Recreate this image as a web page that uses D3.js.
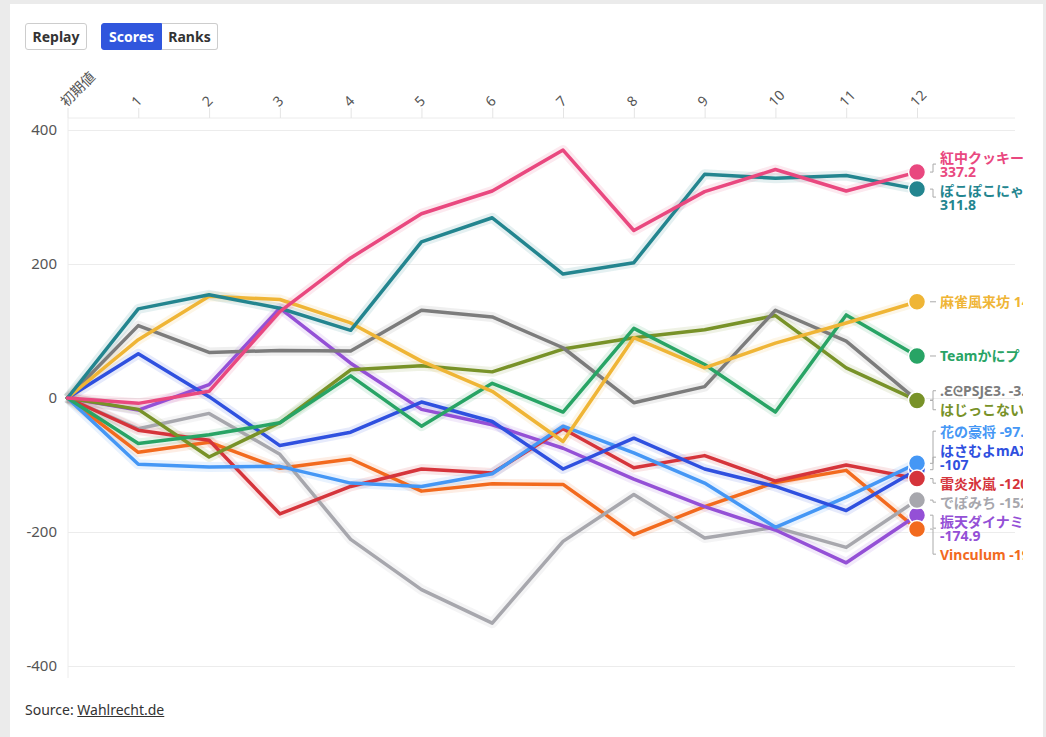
<!DOCTYPE html>
<meta charset="utf-8">
<head>
<style>
  body {
    margin: 0;
    background: #ebebeb;
    font-family: "Source Sans Pro", "Noto Sans", "Noto Sans CJK JP", sans-serif;
  }
  #card {
    position: absolute;
    left: 10px;
    top: 4px;
    width: 1033px;
    height: 760px;
    background: #fff;
  }
  .btn {
    position: absolute;
    top: 23px;
    height: 27px;
    box-sizing: border-box;
    border: 1px solid #cdcdcd;
    background: #fff;
    color: #333;
    font: bold 14px "Noto Sans", sans-serif;
    display: flex;
    align-items: center;
    justify-content: center;
  }
  #replay { left: 25px; width: 62px; border-radius: 3px; }
  #scores { left: 101px; width: 61px; border-radius: 3px 0 0 3px; background: #3056dd; border-color: #3056dd; color: #fff; }
  #ranks { left: 162px; width: 56px; border-radius: 0 3px 3px 0; border-left: none; }
  #source {
    position: absolute;
    left: 25px;
    top: 700px;
    font: 14px "Noto Sans", sans-serif;
    color: #333;
  }
  #source span { text-decoration: underline; }
  svg { position: absolute; left: 0; top: 0; }
  .tick text { fill: #555; }
</style>
</head>
<body>
<div id="card"></div>
<div class="btn" id="replay">Replay</div>
<div class="btn" id="scores">Scores</div>
<div class="btn" id="ranks">Ranks</div>
<div id="source">Source: <span>Wahlrecht.de</span></div>
<svg id="chart" width="1023" height="737"></svg>
<script src="https://cdn.jsdelivr.net/npm/d3@7"></script>
<script>

var rounds = ["初期値", "1", "2", "3", "4", "5", "6", "7", "8", "9", "10", "11", "12"];
var yTicks = [-400, -200, 0, 200, 400];

var names = ["紅中クッキー", "ぽこぽこにゃ", "麻雀風来坊", "Teamかにプ", ".ƐᘓPSJƐ3.", "はじっこない",
             "はさむよmAX", "花の豪将", "雷炎氷嵐", "振天ダイナミ", "でぽみち", "Vinculum"];
var colors = ["#e9487f", "#23858f", "#efb536", "#28a465", "#7c7c7c", "#789228",
              "#2f50df", "#4597f5", "#d5343b", "#9450d6", "#a7a7ad", "#f26a1e"];

// scores after each round
var kukki  = [0, -8, 10, 129, 209, 275, 309, 370, 250, 308, 341, 309, 337.2];
var poko   = [0, 133, 154, 134, 101, 233, 269, 185, 202, 334, 328, 332, 311.8];
var furai  = [0, 87, 152, 147, 112, 55, 10, -65, 90, 45, 82, 112, 143.6];
var kanipu = [0, -68, -55, -37, 33, -42, 22, -21, 104, 50, -21, 124, 62.7];
var psj    = [0, 108, 68, 71, 70, 131, 121, 75, -7, 17, 131, 85, -3.1];
var hajikko = [0, -17, -88, -37, 42, 48, 39, 73, 90, 102, 123, 45, -3.6];
var hasamu = [0, 66, 2, -71, -51, -6, -35, -106, -60, -106, -132, -168, -107];
var hana   = [0, -99, -103, -102, -127, -132, -113, -42, -82, -127, -193, -148, -97.5];
var raien  = [0, -48, -63, -173, -132, -106, -112, -46, -104, -86, -124, -100, -120.3];
var shinten = [0, -18, 20, 134, 52, -17, -40, -75, -121, -162, -197, -246, -174.9];
var depomi = [0, -46, -23, -84, -211, -286, -336, -214, -144, -209, -193, -223, -152.4];
var vinc   = [0, -81, -66, -105, -91, -139, -128, -129, -204, -162, -126, -108, -195.6];

var values = [kukki, poko, furai, kanipu, psj, hajikko, hasamu, hana, raien, shinten, depomi, vinc];

var series = names.map(function(n, i) {
  return { name: n, color: colors[i], values: values[i] };
});

var svg = d3.select("#chart");

var x = d3.scalePoint().domain(rounds).range([67.5, 917]);
var y = d3.scaleLinear().domain([-400, 400]).range([666, 130]);

// grid
svg.append("line")
  .attr("x1", 68).attr("x2", 1015).attr("y1", 118).attr("y2", 118)
  .attr("stroke", "#ececec");
svg.append("line")
  .attr("x1", 68).attr("x2", 68).attr("y1", 118).attr("y2", 678)
  .attr("stroke", "#ececec");

var yAxis = svg.append("g")
  .attr("transform", "translate(68,0)")
  .call(d3.axisLeft(y).tickValues(yTicks).tickFormat(function(d) { return String(d); })
    .tickSize(-947).tickPadding(10));
yAxis.select(".domain").remove();
yAxis.selectAll(".tick line").attr("stroke", "#ececec");
yAxis.selectAll(".tick text")
  .style("font", "15px 'Noto Sans', sans-serif").attr("x", -11);

var xAxis = svg.append("g")
  .attr("transform", "translate(0,118)")
  .call(d3.axisTop(x).tickSize(10).tickPadding(0));
xAxis.select(".domain").remove();
xAxis.selectAll(".tick line").attr("stroke", "#e4e4e4");
xAxis.selectAll(".tick text")
  .style("font", "14px 'Noto Sans', 'Noto Sans CJK JP', sans-serif")
  .attr("text-anchor", "start")
  .attr("transform", "translate(-5,-14) rotate(-45)")
  .attr("y", 0)
  .attr("dy", "0.35em");

var line = d3.line()
  .x(function(d, i) { return x(rounds[i]); })
  .y(function(d) { return y(d); });

var lines = svg.append("g");
series.slice().reverse().forEach(function(s) {
  lines.append("path")
    .attr("d", line(s.values))
    .attr("fill", "none")
    .attr("stroke", s.color)
    .attr("stroke-opacity", 0.12)
    .attr("stroke-width", 10)
    .attr("stroke-linejoin", "round");
});
series.slice().reverse().forEach(function(s) {
  lines.append("path")
    .attr("d", line(s.values))
    .attr("fill", "none")
    .attr("stroke", s.color)
    .attr("stroke-width", 3.5)
    .attr("stroke-linejoin", "round")
    .attr("stroke-linecap", "round");
});

// end dots
var last = rounds[rounds.length - 1];
svg.append("g").selectAll("circle")
  .data(series)
  .join("circle")
  .attr("cx", x(last))
  .attr("cy", function(d) { return y(d.values[d.values.length - 1]); })
  .attr("r", 8.5)
  .attr("fill", function(d) { return d.color; })
  .attr("stroke", "#fff")
  .attr("stroke-width", 1.5);

// labels, pushed apart so they don't overlap
var labelX = x(last) + 23;
var lab = svg.append("g").style("font", "bold 14px 'Noto Sans', 'Noto Sans CJK JP', sans-serif");
var labels = series.map(function(s) {
  var v = s.values[s.values.length - 1];
  var t = lab.append("text").attr("x", labelX).attr("fill", s.color).text(s.name + " " + v);
  var w = t.node().getComputedTextLength();
  var wrap = w > 117;
  if (wrap) {
    t.text(null);
    t.append("tspan").attr("x", labelX).attr("dy", "-0.5em").text(s.name);
    t.append("tspan").attr("x", labelX).attr("dy", "1em").text(v);
  }
  return { s: s, t: t, y0: y(v), y: y(v), h: wrap ? 32 : 18 };
});
labels.sort(function(a, b) { return a.y0 - b.y0; });
for (var k = 0; k < 300; k++) {
  for (var i = 1; i < labels.length; i++) {
    var a = labels[i - 1], b = labels[i];
    var minD = a.h / 2 + b.h / 2 + 1;
    if (b.y - a.y < minD) {
      var sh = (minD - (b.y - a.y)) / 2;
      a.y -= sh; b.y += sh;
    }
  }
}
labels.forEach(function(l) {
  l.t.attr("y", l.y).attr("dominant-baseline", "central");
  l.t.selectAll("tspan").attr("dominant-baseline", "central");
  if (l.h > 18) {
    l.t.select("tspan").attr("y", l.y - 7).attr("dy", null);
    l.t.select("tspan:nth-child(2)").attr("y", l.y + 7).attr("dy", null);
  }
  svg.append("path")
    .attr("d", "M" + (labelX - 10) + "," + l.y0 + "H" + (labelX - 7) + "V" + l.y + "H" + (labelX - 4))
    .attr("fill", "none")
    .attr("stroke", "#aaa")
    .attr("stroke-width", 1);
});

</script>
</body>
